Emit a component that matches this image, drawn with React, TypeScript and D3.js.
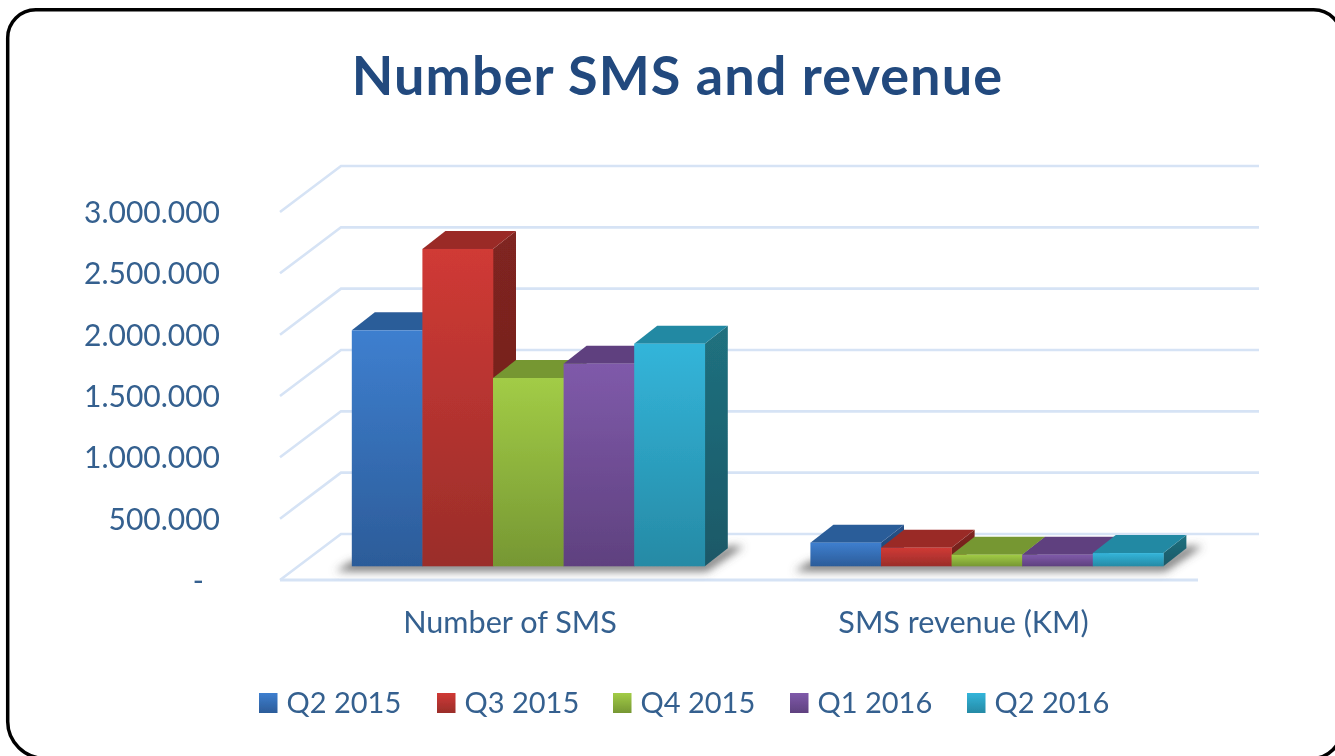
import React from "react";
import * as d3 from "d3";

const categories = ["Number of SMS", "SMS revenue (KM)"];
const quarters = ["Q2 2015", "Q3 2015", "Q4 2015", "Q1 2016", "Q2 2016"];
const smsCounts = [1924000, 2587000, 1535000, 1652000, 1815000];
const smsRevenue = [193000, 152000, 95000, 95000, 108000];
const yTicks = [0, 500000, 1000000, 1500000, 2000000, 2500000, 3000000];
const yTickLabels = ["-", "500.000", "1.000.000", "1.500.000", "2.000.000", "2.500.000", "3.000.000"];
const legendSwatchX = [259, 437, 613, 790, 967];
const categoryLabelX = [510, 963.5];

const faceFront = [
  ["#3e7fcf", "#2c5c99"],
  ["#d03a35", "#9a2d2a"],
  ["#a2cc46", "#769733"],
  ["#7f5aaa", "#5f417f"],
  ["#33b5da", "#268aa5"],
];
const faceTop = ["#2c5d99", "#9a2b28", "#769733", "#5f417f", "#2489a3"];
const faceSide = [
  ["#265289", "#1f4572"],
  ["#802520", "#6d201d"],
  ["#5f7a2a", "#506825"],
  ["#4c3466", "#412c58"],
  ["#20717f", "#1b5867"],
];

const W = 1335;
const H = 756;
const FONT = "Lato, Carlito, Calibri, sans-serif";
const TEXT = "#34608f";
const GRID = "#d6e3f5";

const yBack = d3.scaleLinear().domain([0, 3000000]).range([534, 166]);
const yBar = d3.scaleLinear().domain([0, 3000000]).range([566.3, 198.3]);
const yFront = d3.scaleLinear().domain([0, 3000000]).range([580, 212]);

const xGroup = d3
  .scaleBand<string>()
  .domain(categories)
  .range([299, 1216.2])
  .paddingInner(0.2303)
  .paddingOuter(0.11515);
const xInner = d3
  .scaleBand<string>()
  .domain(quarters)
  .range([0, xGroup.bandwidth()]);

const DX = 23;
const DY = 18;
const WALL_X0 = 280;
const WALL_X1 = 341;
const WALL_X2 = 1259;
const FLOOR_X2 = 1198;

const seriesByCategory = [smsCounts, smsRevenue];

// Chart-area frame: it runs off the right and bottom of the picture.
const FRAME_PATH =
  "M 35.7 9.7 H 1313.7 A 28 28 0 0 1 1341.7 37.7 V 728.5 A 30 30 0 0 1 1311.7 758.5 H 45.7 A 38 37 0 0 1 7.7 721.5 V 37.7 A 28 28 0 0 1 35.7 9.7 Z";

export default function App() {
  const line = d3.line<[number, number]>();
  return (
    <svg
      width={W}
      height={H}
      viewBox={`0 0 ${W} ${H}`}
      style={{ position: "absolute", left: 0, top: 0, background: "#fff" }}
    >
      <defs>
        <filter id="soft" x="-5%" y="-5%" width="110%" height="110%">
          <feGaussianBlur stdDeviation="0.55" />
        </filter>
        <filter id="shadow" x="-20%" y="-100%" width="140%" height="300%">
          <feGaussianBlur stdDeviation="4" />
        </filter>
        {quarters.map((q, i) => (
          <React.Fragment key={q}>
            <linearGradient id={`front${i}`} x1="0" y1="0" x2="0" y2="1">
              <stop offset="0" stopColor={faceFront[i][0]} />
              <stop offset="1" stopColor={faceFront[i][1]} />
            </linearGradient>
            <linearGradient id={`side${i}`} x1="0" y1="0" x2="0" y2="1">
              <stop offset="0" stopColor={faceSide[i][0]} />
              <stop offset="1" stopColor={faceSide[i][1]} />
            </linearGradient>
          </React.Fragment>
        ))}
      </defs>

      <path d={FRAME_PATH} fill="#fff" stroke="#000" strokeWidth={3.5} filter="url(#soft)" />

      <g filter="url(#soft)">
        <text
          x={677.5}
          y={94.5}
          textAnchor="middle"
          fontFamily={FONT}
          fontWeight={700}
          fontSize={54}
          letterSpacing={1.1}
          fill="#204a7e"
        >
          Number SMS and revenue
        </text>

        {yTicks.map((t) => (
          <path
            key={t}
            d={
              line([
                [WALL_X0, yFront(t)],
                [WALL_X1, yBack(t)],
                [WALL_X2, yBack(t)],
              ]) as string
            }
            fill="none"
            stroke={GRID}
            strokeWidth={2.6}
          />
        ))}
        <path
          d={line([[WALL_X0, yFront(0)], [FLOOR_X2, yFront(0)]]) as string}
          fill="none"
          stroke={GRID}
          strokeWidth={2.8}
        />

        {yTicks.map((t, i) => (
          <text
            key={t}
            x={t === 0 ? 204 : 220}
            y={yFront(t) + 0.5}
            dy="0.35em"
            textAnchor="end"
            fontFamily={FONT}
            fontSize={30}
            fill={TEXT}
          >
            {yTickLabels[i]}
          </text>
        ))}
      </g>

      {categories.map((c) => {
        const left = xGroup(c) as number;
        const right = left + xGroup.bandwidth();
        const base = yBar(0);
        return (
          <path
            key={c}
            d={
              (d3.line()([
                [left - 16, base + 5],
                [right + 2, base + 5],
                [right + DX + 16, base - DY - 2],
                [right + DX, base - DY - 2],
                [right, base - 5],
                [left, base - 5],
              ]) as string) + "Z"
            }
            fill="#555"
            fillOpacity={0.8}
            filter="url(#shadow)"
          />
        );
      })}

      <g filter="url(#soft)">
        {categories.map((c, ci) => (
          <g key={c}>
            {quarters.map((q, i) => {
              const x0 = (xGroup(c) as number) + (xInner(q) as number);
              const w = xInner.bandwidth();
              const top = yBar(seriesByCategory[ci][i]);
              const base = yBar(0);
              return (
                <g key={q}>
                  <path
                    d={
                      (d3.line()([
                        [x0 + w, top],
                        [x0 + w + DX, top - DY],
                        [x0 + w + DX, base - DY],
                        [x0 + w, base],
                      ]) as string) + "Z"
                    }
                    fill={`url(#side${i})`}
                  />
                  <path
                    d={
                      (d3.line()([
                        [x0, top],
                        [x0 + DX, top - DY],
                        [x0 + w + DX, top - DY],
                        [x0 + w, top],
                      ]) as string) + "Z"
                    }
                    fill={faceTop[i]}
                  />
                  <rect
                    x={x0}
                    y={top}
                    width={w + 0.3}
                    height={base - top}
                    fill={`url(#front${i})`}
                  />
                </g>
              );
            })}
          </g>
        ))}
      </g>

      <g filter="url(#soft)">
        {categories.map((c, ci) => (
          <text
            key={c}
            x={categoryLabelX[ci]}
            y={632.5}
            textAnchor="middle"
            fontFamily={FONT}
            fontSize={30.6}
            fill={TEXT}
          >
            {c}
          </text>
        ))}
        {quarters.map((q, i) => (
          <g key={q}>
            <rect x={legendSwatchX[i]} y={693} width={18.5} height={20} fill={`url(#front${i})`} />
            <text
              x={legendSwatchX[i] + 27.5}
              y={713}
              fontFamily={FONT}
              fontSize={29}
              fill={TEXT}
            >
              {q}
            </text>
          </g>
        ))}
      </g>
    </svg>
  );
}
